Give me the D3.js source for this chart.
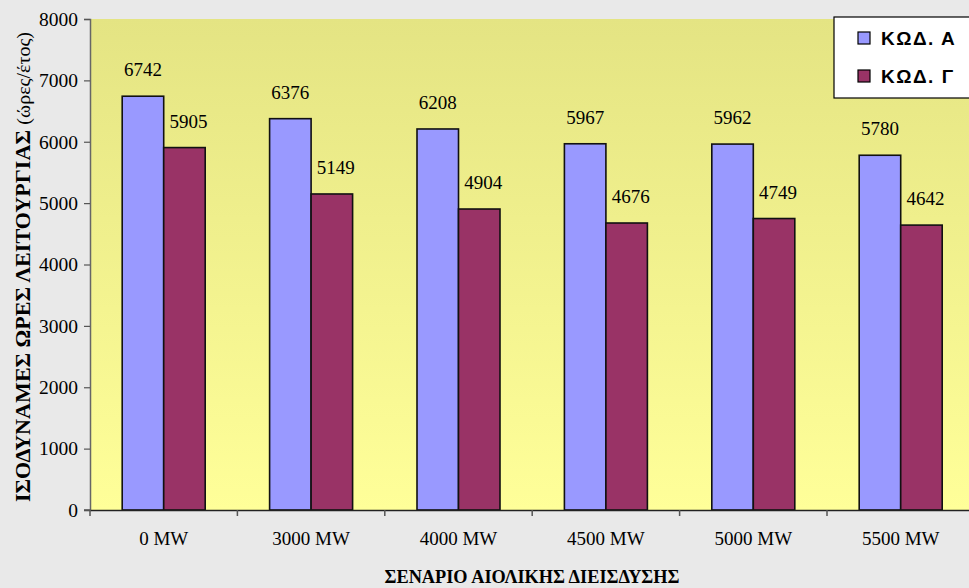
<!DOCTYPE html>
<html>
<head>
<meta charset="utf-8">
<script src="https://cdn.jsdelivr.net/npm/d3@7"></script>
<style>
  html, body { margin: 0; padding: 0; background: #e9e9e9; }
  svg { display: block; }
</style>
</head>
<body>
<svg id="chart" width="969" height="588"></svg>
<script>
// Scenario categories (wind penetration) and equivalent operating hours per code
const categories = ["0 MW", "3000 MW", "4000 MW", "4500 MW", "5000 MW", "5500 MW"];
const seriesNames = ["ΚΩΔ. Α", "ΚΩΔ. Γ"];
const seriesA = [6742, 6376, 6208, 5967, 5962, 5780];
const seriesG = [5905, 5149, 4904, 4676, 4749, 4642];
const yTicks = [0, 1000, 2000, 3000, 4000, 5000, 6000, 7000, 8000];
const colors = ["#9999ff", "#993366"];

const svg = d3.select("#chart");
const W = 969, H = 588;
const plot = { left: 90, top: 19, right: 974.4, bottom: 510 };
const serif = "'Liberation Serif', 'Times New Roman', serif";

svg.append("rect").attr("width", W).attr("height", H).attr("fill", "#e9e9e9");

// Plot-area gradient fill
const defs = svg.append("defs");
const grad = defs.append("linearGradient").attr("id", "plotBg")
  .attr("x1", 0).attr("y1", 0).attr("x2", 0).attr("y2", 1);
grad.append("stop").attr("offset", "0%").attr("stop-color", "#e4e483");
grad.append("stop").attr("offset", "100%").attr("stop-color", "#ffff99");

svg.append("rect")
  .attr("x", plot.left).attr("y", plot.top)
  .attr("width", plot.right - plot.left).attr("height", plot.bottom - plot.top)
  .attr("fill", "url(#plotBg)");

const x0 = d3.scaleBand().domain(categories).range([plot.left, plot.right]).padding(0);
const x1 = d3.scaleBand().domain(seriesNames).range([0, x0.bandwidth()])
  .paddingInner(0).paddingOuter(0.776);
const y = d3.scaleLinear().domain([0, 8000]).range([plot.bottom, plot.top]);

const rows = categories.map((c, i) => ({
  cat: c,
  vals: [
    { s: seriesNames[0], v: seriesA[i], c: colors[0] },
    { s: seriesNames[1], v: seriesG[i], c: colors[1] }
  ]
}));

// Bars
const groups = svg.append("g").selectAll("g").data(rows).join("g")
  .attr("transform", d => `translate(${x0(d.cat)},0)`);

groups.selectAll("rect").data(d => d.vals).join("rect")
  .attr("x", d => x1(d.s))
  .attr("y", d => y(d.v))
  .attr("width", x1.bandwidth())
  .attr("height", d => y(0) - y(d.v))
  .attr("fill", d => d.c)
  .attr("stroke", "#111")
  .attr("stroke-width", 1.6);

// Value labels
groups.selectAll("text").data(d => d.vals).join("text")
  .attr("x", (d, i) => x1(d.s) + x1.bandwidth() / 2 + (i === 1 ? 4 : 0))
  .attr("y", d => y(d.v) - 20)
  .attr("text-anchor", "middle")
  .attr("font-family", serif)
  .attr("font-size", 19)
  .attr("fill", "#000")
  .text(d => d.v);

// Y axis
const yAxis = d3.axisLeft(y).tickValues(yTicks).tickSize(6).tickPadding(6).tickFormat(d3.format("d"));
const gy = svg.append("g").attr("transform", `translate(${plot.left},0)`).call(yAxis);
gy.select(".domain").attr("stroke", "#666").attr("stroke-width", 1.5);
gy.selectAll(".tick line").attr("stroke", "#555").attr("stroke-width", 1.2);
gy.selectAll(".tick text")
  .attr("font-family", serif)
  .attr("font-size", 19.5).attr("fill", "#000");

// X axis
const xAxis = d3.axisBottom(x0).tickSize(0).tickPadding(22);
const gx = svg.append("g").attr("transform", `translate(0,${plot.bottom})`).call(xAxis);
gx.select(".domain").attr("stroke", "#222").attr("stroke-width", 1.5);
gx.selectAll(".tick text")
  .attr("font-family", serif)
  .attr("font-size", 19).attr("fill", "#000");
svg.append("line").attr("x1", plot.left - 6).attr("x2", plot.left)
  .attr("y1", plot.bottom).attr("y2", plot.bottom).attr("stroke", "#555").attr("stroke-width", 1.5);

// Category boundary ticks
svg.append("g").selectAll("line")
  .data(categories)
  .join("line")
  .attr("x1", d => x0(d)).attr("x2", d => x0(d))
  .attr("y1", plot.bottom).attr("y2", plot.bottom + 6)
  .attr("stroke", "#555").attr("stroke-width", 1.5);

// Axis titles
svg.append("text")
  .attr("x", 532).attr("y", 583)
  .attr("text-anchor", "middle")
  .attr("font-family", serif)
  .attr("font-weight", "bold").attr("font-size", 19)
  .attr("textLength", 295).attr("lengthAdjust", "spacingAndGlyphs")
  .text("ΣΕΝΑΡΙΟ  ΑΙΟΛΙΚΗΣ ΔΙΕΙΣΔΥΣΗΣ");

const yt = svg.append("text")
  .attr("transform", "translate(30,267) rotate(-90)")
  .attr("text-anchor", "middle")
  .attr("font-family", serif)
  .attr("font-size", 21)
  .attr("textLength", 470).attr("lengthAdjust", "spacingAndGlyphs");
yt.append("tspan").attr("font-weight", "bold").text("ΙΣΟΔΥΝΑΜΕΣ ΩΡΕΣ ΛΕΙΤΟΥΡΓΙΑΣ ");
yt.append("tspan").attr("font-size", 19).text("(ώρες/έτος)");

// Legend
const lg = svg.append("g");
lg.append("rect").attr("x", 834).attr("y", 17).attr("width", 150).attr("height", 81)
  .attr("fill", "#fff").attr("stroke", "#000").attr("stroke-width", 1.2);
const items = lg.selectAll("g.item").data(seriesNames).join("g").attr("class", "item")
  .attr("transform", (d, i) => `translate(0,${38 + i * 38})`);
items.append("rect").attr("x", 858).attr("y", -6).attr("width", 12).attr("height", 12)
  .attr("fill", (d, i) => colors[i]).attr("stroke", "#000").attr("stroke-width", 1.2);
items.append("text").attr("x", 881).attr("y", 7)
  .attr("font-family", "'Liberation Sans', Arial, sans-serif")
  .attr("font-weight", "bold").attr("font-size", 19)
  .attr("letter-spacing", 1.5)
  .text(d => d);
</script>
</body>
</html>
